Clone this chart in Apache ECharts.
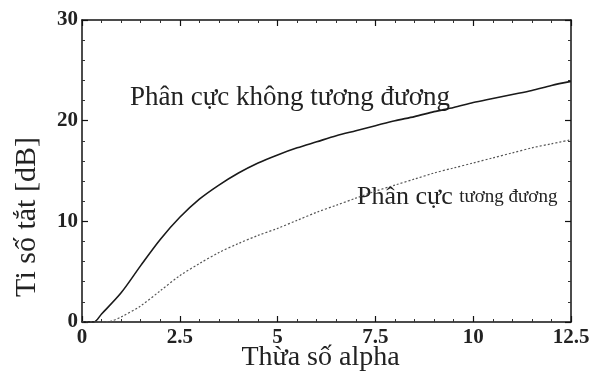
<!DOCTYPE html>
<html>
<head>
<meta charset="utf-8">
<script src="https://cdn.jsdelivr.net/npm/echarts@6/dist/echarts.min.js"></script>
<style>
  html, body { margin: 0; padding: 0; background: #fff; }
  #chart { width: 589px; height: 378px; }
</style>
</head>
<body>
<div id="chart"></div>
<script>
// du lieu doc tu hinh
var xTicks = [0, 2.5, 5, 7.5, 10, 12.5]
var yTicks = [0, 10, 20, 30]

// Phan cuc khong tuong duong (duong lien)
var xKhong = [0, 0.3, 0.5, 1, 1.5, 2, 2.5, 3, 3.5, 4, 4.5, 5, 5.5, 6, 6.5, 7, 7.5, 8, 8.5, 9, 9.5, 10, 10.5, 11, 11.5, 12, 12.5]
var yKhong = [0, 0, 0.8, 2.9, 5.6, 8.2, 10.4, 12.2, 13.6, 14.8, 15.8, 16.6, 17.3, 17.9, 18.5, 19.0, 19.5, 20.0, 20.4, 20.9, 21.3, 21.8, 22.2, 22.6, 23.0, 23.5, 23.9]

// Phan cuc tuong duong (duong cham)
var xTuong = [0, 0.5, 0.75, 1, 1.5, 2, 2.5, 3, 3.5, 4, 4.5, 5, 5.5, 6, 6.5, 7, 7.5, 8, 8.5, 9, 9.5, 10, 10.5, 11, 11.5, 12, 12.5]
var yTuong = [0, 0, 0.1, 0.5, 1.6, 3.1, 4.6, 5.8, 6.9, 7.8, 8.6, 9.3, 10.1, 10.9, 11.6, 12.3, 13.0, 13.6, 14.2, 14.8, 15.3, 15.8, 16.3, 16.8, 17.3, 17.7, 18.1]

var font = 'Liberation Serif'

function pairs (xs, ys) {
  return xs.map(function (x, i) { return [x, ys[i]] })
}

var chart = echarts.init(document.getElementById('chart'))

var axisBase = {
  type: 'value',
  axisLine: { show: true, onZero: false, lineStyle: { color: '#111', width: 1.5 } },
  axisTick: { show: true, inside: true, length: 6, lineStyle: { color: '#111', width: 1.2 } },
  minorTick: { show: true, splitNumber: 5, length: 3, lineStyle: { color: '#333', width: 1 } },
  splitLine: { show: false }
}

var option = {
  animation: false,
  backgroundColor: '#fff',
  grid: { left: 82, right: 18, top: 20, bottom: 56, containLabel: false, outerBoundsMode: 'none' },
  xAxis: [
    Object.assign({}, axisBase, {
      min: 0, max: 12.5, interval: 2.5,
      name: 'Thừa số alpha',
      nameLocation: 'middle',
      nameGap: 22,
      nameMoveOverlap: false,
      nameTextStyle: { fontFamily: font, fontSize: 28, color: '#222', padding: [0, 12, 0, 0] },
      axisLabel: {
        margin: 5, fontFamily: font, fontSize: 21, fontWeight: 'bold', color: '#222',
        formatter: function (v) { return xTicks.indexOf(v) >= 0 ? String(v) : '' }
      }
    }),
    Object.assign({}, axisBase, {
      position: 'top', min: 0, max: 12.5, interval: 2.5,
      axisLabel: { show: false }
    })
  ],
  yAxis: [
    Object.assign({}, axisBase, {
      min: 0, max: 30, interval: 10,
      axisLabel: {
        margin: 4, fontFamily: font, fontSize: 21, fontWeight: 'bold', color: '#222',
        formatter: function (v) { return yTicks.indexOf(v) >= 0 ? String(v) : '' }
      }
    }),
    Object.assign({}, axisBase, {
      position: 'right', min: 0, max: 30, interval: 10,
      axisLabel: { show: false }
    })
  ],
  series: [
    {
      name: 'Phân cực không tương đương',
      type: 'line',
      smooth: 0.3,
      symbol: 'none',
      lineStyle: { color: '#1a1a1a', width: 1.6 },
      data: pairs(xKhong, yKhong)
    },
    {
      name: 'Phân cực tương đương',
      type: 'line',
      smooth: 0.3,
      symbol: 'none',
      lineStyle: { color: '#555', width: 1.2, type: [2, 2] },
      data: pairs(xTuong, yTuong)
    }
  ],
  graphic: [
    {
      // ten truc tung
      type: 'text',
      x: 27,
      y: 217,
      rotation: Math.PI / 2,
      style: {
        text: 'Ti số tắt [dB]',
        fontFamily: font, fontSize: 30, fill: '#222',
        align: 'center', verticalAlign: 'middle'
      }
    },
    {
      type: 'text',
      x: 130,
      y: 98,
      style: {
        text: '{a|Phân cực không }{b|tương đương}',
        verticalAlign: 'middle',
        rich: {
          a: { fontFamily: font, fontSize: 27, fill: '#222' },
          b: { fontFamily: font, fontSize: 27, fill: '#222' }
        }
      }
    },
    {
      type: 'text',
      x: 357,
      y: 197,
      style: {
        text: '{a|Phân cực }{b|tương đương}',
        verticalAlign: 'middle',
        rich: {
          a: { fontFamily: font, fontSize: 26, fill: '#222' },
          b: { fontFamily: font, fontSize: 19, fill: '#222' }
        }
      }
    }
  ]
}

chart.setOption(option)
</script>
</body>
</html>
